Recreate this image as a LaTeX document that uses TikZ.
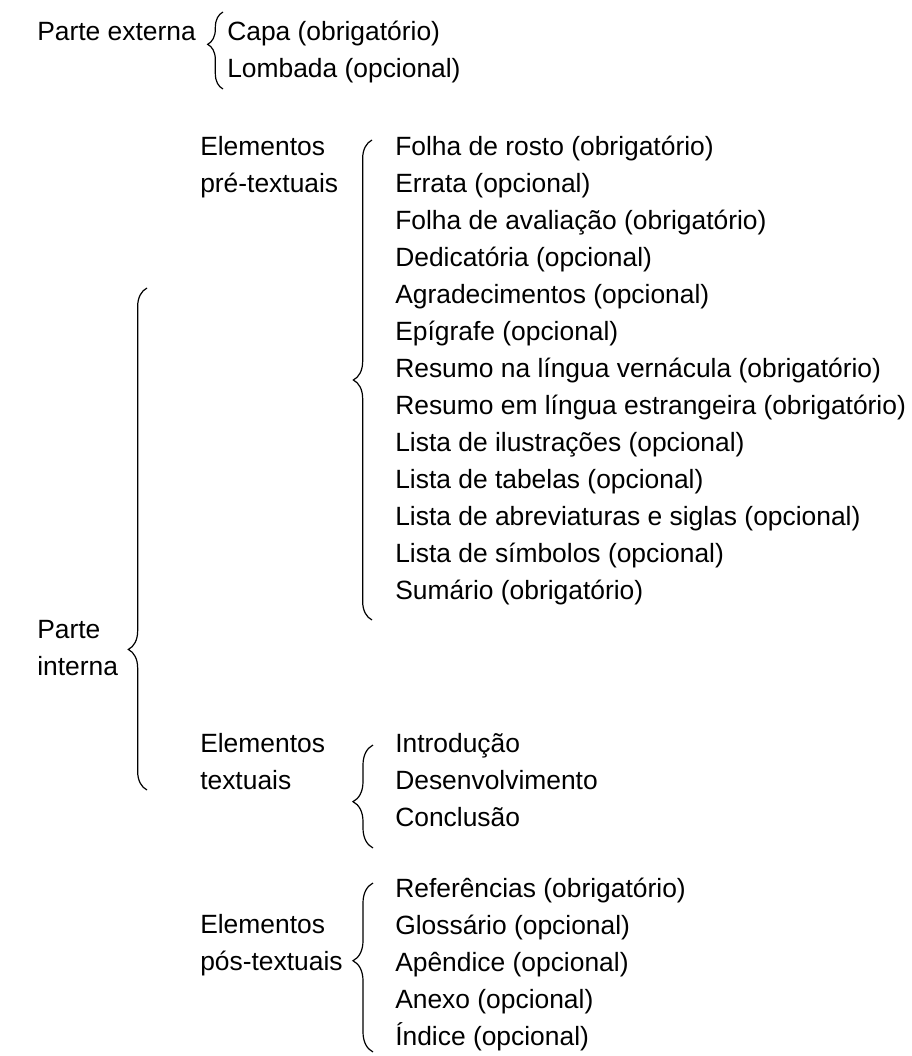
\documentclass[tikz,border=0pt]{standalone}
\usepackage{fontspec}
\setmainfont{Liberation Sans}
\usetikzlibrary{decorations.pathreplacing, positioning}

\begin{document}
\begin{tikzpicture}[x=0.75pt, y=0.75pt, node distance=27.75pt,
  every node/.style={anchor=base west, inner sep=0pt, font=\fontsize{19.8}{24}\selectfont},
  nextline/.style={below=of #1.base west, anchor=base west},
  brace/.style={decorate, line width=0.9pt, decoration={brace, amplitude=#1}}]
\useasboundingbox (0,0) rectangle (912,-1056);
% parte externa
\node (pext) at (37,-41) {Parte externa};
\node (capa) at (227,-41) {Capa (obrigatório)};
\node (lombada) [nextline=capa] {Lombada (opcional)};
\draw[brace=11.5pt, decoration={aspect=0.58}] (223,-89) -- (223,-12);
% parte interna
\node (parte) at (37,-638) {Parte};
\node (interna) [nextline=parte] {interna};
\draw[brace=14pt, decoration={aspect=0.28}] (147,-790) -- (147,-288);
% elementos pre-textuais
\node (elpre) at (200,-155) {Elementos};
\node (pretext) [nextline=elpre] {pré-textuais};
\node (folha) at (395,-155) {Folha de rosto (obrigatório)};
\node (errata) [nextline=folha] {Errata (opcional)};
\node (avaliacao) [nextline=errata] {Folha de avaliação (obrigatório)};
\node (dedicatoria) [nextline=avaliacao] {Dedicatória (opcional)};
\node (agradec) [nextline=dedicatoria] {Agradecimentos (opcional)};
\node (epigrafe) [nextline=agradec] {Epígrafe (opcional)};
\node (resumo) [nextline=epigrafe] {Resumo na língua vernácula (obrigatório)};
\node (abstract) [nextline=resumo] {Resumo em língua estrangeira (obrigatório)};
\node (ilustr) [nextline=abstract] {Lista de ilustrações (opcional)};
\node (tabelas) [nextline=ilustr] {Lista de tabelas (opcional)};
\node (siglas) [nextline=tabelas] {Lista de abreviaturas e siglas (opcional)};
\node (simbolos) [nextline=siglas] {Lista de símbolos (opcional)};
\node (sumario) [nextline=simbolos] {Sumário (obrigatório)};
\draw[brace=14pt, decoration={aspect=0.5}] (372,-620) -- (372,-140);
% elementos textuais
\node (eltext) at (200,-752) {Elementos};
\node (textuais) [nextline=eltext] {textuais};
\node (intro) at (395,-752) {Introdução};
\node (desenv) [nextline=intro, node distance=27pt] {Desenvolvimento};
\node (concl) [nextline=desenv, node distance=27pt] {Conclusão};
\draw[brace=15pt, decoration={aspect=0.45}] (373,-848) -- (373,-745);
% elementos pos-textuais
\node (elpos) at (200,-933) {Elementos};
\node (postext) [nextline=elpos] {pós-textuais};
\node (refs) at (395,-897) {Referências (obrigatório)};
\node (glossario) [nextline=refs, node distance=27pt] {Glossário (opcional)};
\node (apendice) [nextline=glossario, node distance=27pt] {Apêndice (opcional)};
\node (anexo) [nextline=apendice, node distance=27pt] {Anexo (opcional)};
\node (indice) [nextline=anexo, node distance=27pt] {Índice (opcional)};
\draw[brace=15pt, decoration={aspect=0.54}] (373,-1052) -- (373,-883);
\end{tikzpicture}
\end{document}
